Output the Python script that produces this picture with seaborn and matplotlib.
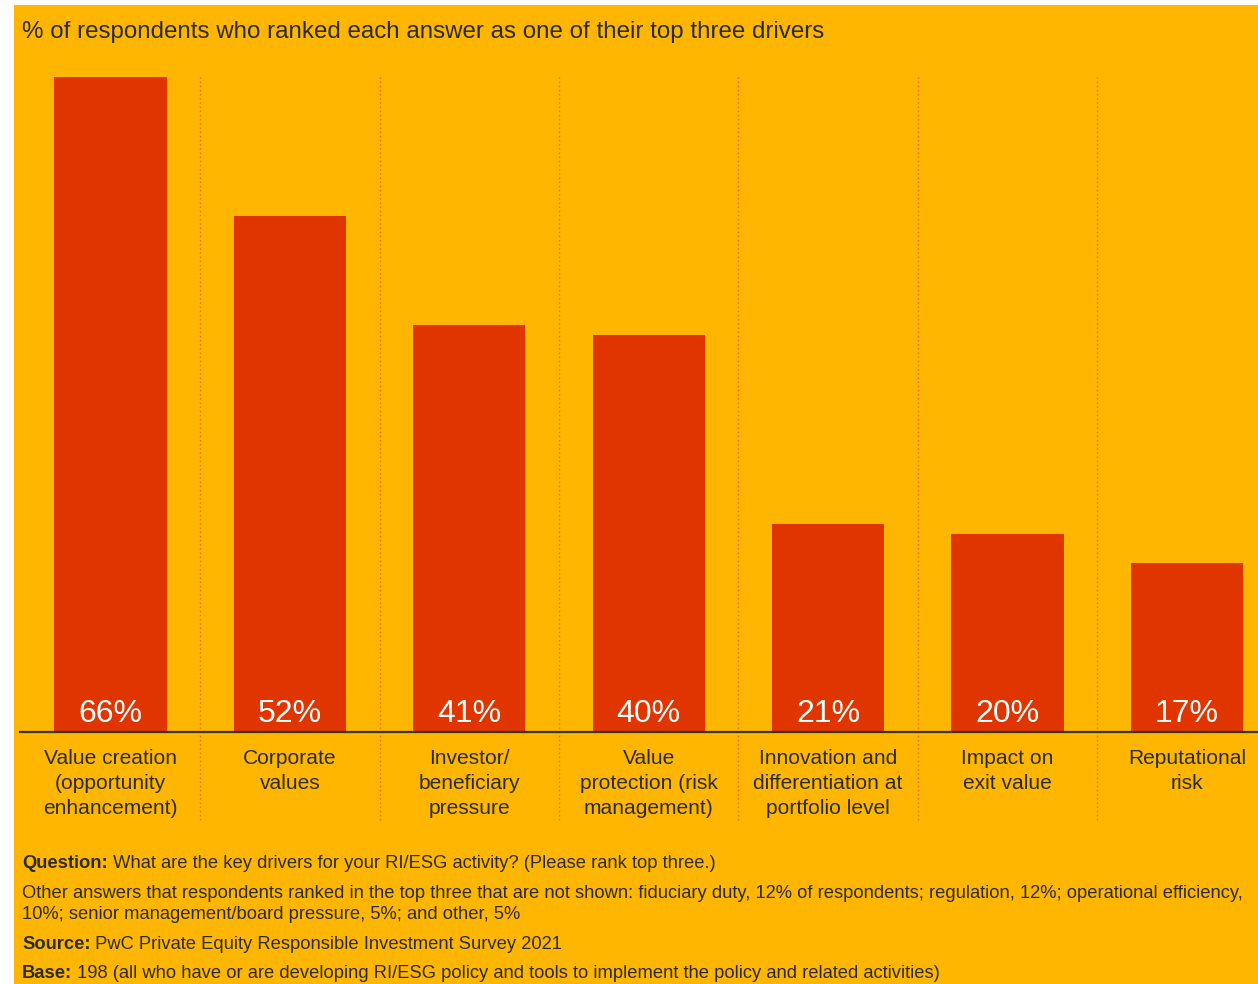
import matplotlib
matplotlib.use("Agg")
import matplotlib.pyplot as plt
import seaborn as sns
import pandas as pd
from matplotlib.patches import Rectangle

categories = ["Value creation\n(opportunity\nenhancement)", "Corporate\nvalues",
              "Investor/\nbeneficiary\npressure", "Value\nprotection (risk\nmanagement)",
              "Innovation and\ndifferentiation at\nportfolio level", "Impact on\nexit value",
              "Reputational\nrisk"]
values = [66, 52, 41, 40, 21, 20, 17]
value_labels = ["66%", "52%", "41%", "40%", "21%", "20%", "17%"]

title = "% of respondents who ranked each answer as one of their top three drivers"
notes = [
    ("Question:", " What are the key drivers for your RI/ESG activity? (Please rank top three.)"),
    ("", "Other answers that respondents ranked in the top three that are not shown: fiduciary duty, 12% of respondents; regulation, 12%; operational efficiency,"),
    ("", "10%; senior management/board pressure, 5%; and other, 5%"),
    ("Source:", " PwC Private Equity Responsible Investment Survey 2021"),
    ("Base:", " 198 (all who have or are developing RI/ESG policy and tools to implement the policy and related activities)"),
]

BG = "#FFB600"
BAR = "#E13500"
TXT = "#2B2B22"

sns.set_theme(style="white")
plt.rcParams['font.family'] = ['Liberation Sans', 'DejaVu Sans']

W, H = 1258, 984
fig = plt.figure(figsize=(W / 100, H / 100), dpi=100)
fig.patch.set_facecolor("white")
fig.patches.append(Rectangle((14 / W, 0), 1 - 14 / W, 1 - 5 / H, transform=fig.transFigure,
                             facecolor=BG, edgecolor="none", zorder=-10))

ax_left, ax_right = 20, 1258
ax_bottom_px, ax_top_px = 732, 40
ax = fig.add_axes([ax_left / W, 1 - ax_bottom_px / H, (ax_right - ax_left) / W,
                   (ax_bottom_px - ax_top_px) / H])
ax.set_facecolor("none")

df = pd.DataFrame({"cat": categories, "val": values})
sns.barplot(data=df, x="cat", y="val", color=BAR, width=0.625, saturation=1, ax=ax,
            zorder=3, edgecolor=BAR, linewidth=0)

spacing = 179.4
x0 = 110.5
ax.set_xlim((ax_left - x0) / spacing, (ax_right - x0) / spacing)
ppu = 9.92
ax.set_ylim(0, (ax_bottom_px - ax_top_px) / ppu)

for s in ["top", "right", "left"]:
    ax.spines[s].set_visible(False)
ax.spines["bottom"].set_color("#3A3520")
ax.spines["bottom"].set_linewidth(1.6)
ax.spines["bottom"].set_zorder(5)
ax.set_yticks([])
ax.set_xlabel("")
ax.set_ylabel("")
ax.tick_params(axis="x", length=0, pad=12.5, labelsize=15.1, labelcolor=TXT)
ax.set_xticks(range(len(categories)))
ax.set_xticklabels(categories, linespacing=1.38)

# dotted separators
for i in range(len(categories) - 1):
    ax.vlines(i + 0.5, -8.9, max(values), colors="#E8671A", linestyles=(0, (1, 2)),
              linewidth=1.0, clip_on=False, zorder=1)

for i, (v, lab) in enumerate(zip(values, value_labels)):
    ax.annotate(lab, (i, 0), xytext=(0, 7.5), textcoords="offset points", ha="center",
                va="baseline", color="white", fontsize=23, zorder=6)

fig.text(22 / W, 1 - 32 / H, title, ha="left", va="center", fontsize=17.4, color=TXT)

renderer = fig.canvas.get_renderer()
ys = [868, 898, 919, 949, 978]  # baselines in px from top
note_fs = 13.2
for (b, t), y in zip(notes, ys):
    x = 22 / W
    if b:
        bt = fig.text(x, 1 - y / H, b, ha="left", va="baseline", fontsize=note_fs,
                      color=TXT, fontweight="bold")
        bb = bt.get_window_extent(renderer)
        x = bb.x1 / W
    fig.text(x, 1 - y / H, t, ha="left", va="baseline", fontsize=note_fs, color=TXT)

fig.savefig("out.png", dpi=100, facecolor=fig.get_facecolor())
